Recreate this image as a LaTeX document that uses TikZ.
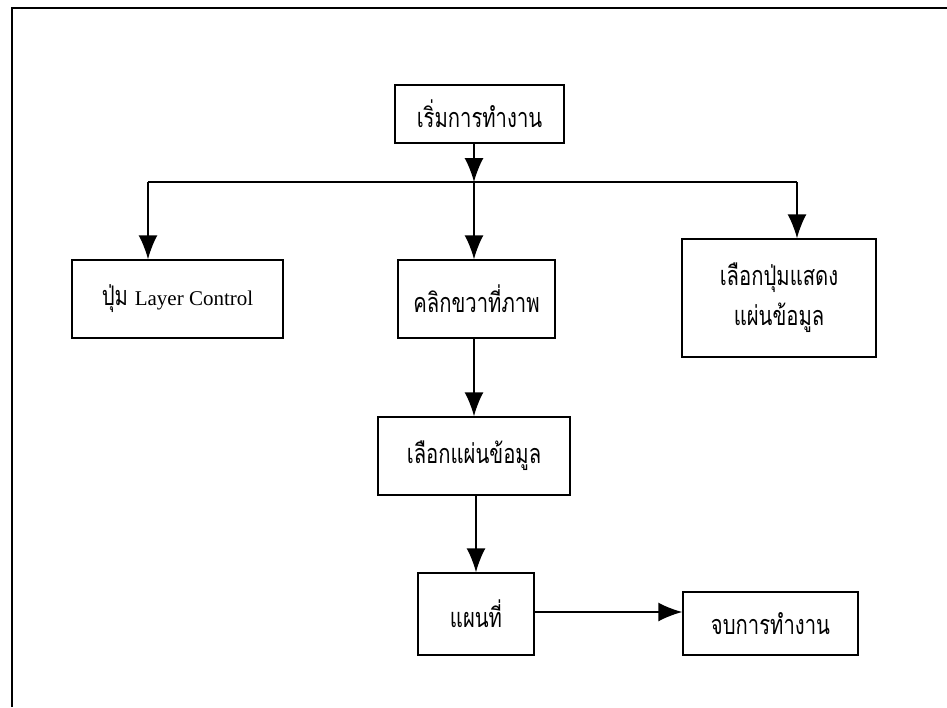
\documentclass[tikz,border=0pt]{standalone}
\usepackage{fontspec}
\usepackage{tikz}
\setmainfont{Liberation Serif}
\newfontfamily\thaifont[Script=Thai, FakeStretch=0.75]{Loma}
\usetikzlibrary{arrows.meta}
\usetikzlibrary{positioning}
\tikzset{box/.style = {draw, line width=1.5pt, align=center,
                       font=\fontsize{27}{40}\selectfont\thaifont},
         flow/.style = {line width=1.5pt,
                        -{Latex[length=24pt, width=19pt]}}}

\begin{document}
\begin{tikzpicture}[x=1pt, y=-1pt]
    \useasboundingbox (0, 0) rectangle (947, 707);
    \draw [line width=2pt] (12, 707) -- (12, 8) -- (947, 8);

    \node [box, minimum width=169, minimum height=58] (start) at (479.5, 114) {เริ่มการทำงาน};
    \node [box, minimum width=211, minimum height=78] (layer) at (177.5, 299) {ปุ่ม {\fontsize{21}{26}\selectfont\rmfamily Layer Control}};
    \node [box, minimum width=157, minimum height=78] (click) at (476.5, 299) {คลิกขวาที่ภาพ};
    \node [box, minimum width=194, minimum height=118] (show) at (779, 298) {เลือกปุ่มแสดง\\แผ่นข้อมูล};
    \node [box, minimum width=192, minimum height=78] (pick) at (474, 456) {เลือกแผ่นข้อมูล};
    \node [box, minimum width=116, minimum height=82] (map) at (476, 614) {แผนที่};
    \node [box, minimum width=175, minimum height=63] (stop) at (770.5, 623.5) {จบการทำงาน};

    \coordinate (split) at (474, 182);
    \coordinate (lft) at (148, 182);
    \coordinate (rgt) at (797, 182);

    \draw [flow] (start.south -| split) -- (split);
    \draw [line width=1.5pt] (lft) -- (rgt);
    \draw [flow] (lft) -- (lft |- layer.north);
    \draw [flow] (split) -- (split |- click.north);
    \draw [flow] (rgt) -- (rgt |- show.north);
    \draw [flow] (click.south -| split) -- (split |- pick.north);
    \draw [flow] (pick.south -| map) -- (map.north);
    \draw [flow] (map.east |- 0, 612) -- (stop.west |- 0, 612);
  \end{tikzpicture}
\end{document}
